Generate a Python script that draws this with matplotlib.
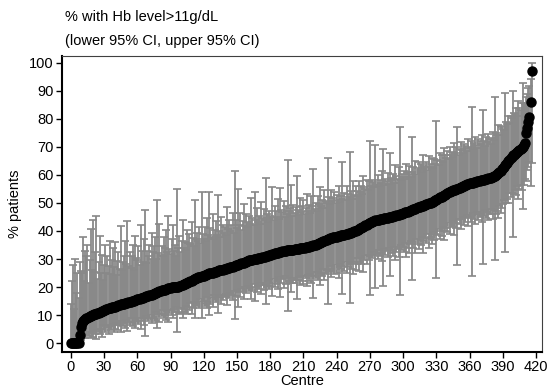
import numpy as np
import matplotlib
matplotlib.use("Agg")
import matplotlib.pyplot as plt

plt.rcParams['font.family'] = ['Liberation Sans', 'DejaVu Sans']

# % of patients with Hb > 11 g/dL per centre, sorted ascending
pct = [
    0.0, 0.0, 0.0, 0.0, 0.0, 0.0, 0.0, 0.0,
    3.0, 5.6, 7.1, 7.7, 8.3, 8.7, 9.0, 9.1, 9.4,
    9.6, 9.8, 10.0, 10.0, 10.2, 10.4, 10.5, 10.7, 10.9, 11.1, 11.1, 11.3, 11.5, 11.8, 11.9, 12.0, 12.2, 12.4,
    12.5, 12.5, 12.7, 12.9, 13.0, 13.0, 13.2, 13.3, 13.5, 13.6, 13.8, 13.9, 14.0, 14.1, 14.3, 14.3, 14.4, 14.5,
    14.6, 14.8, 15.0, 15.0, 15.1, 15.2, 15.4, 15.6, 15.7, 15.8, 16.0, 16.0, 16.1, 16.3, 16.4, 16.7, 16.7, 16.9,
    17.0, 17.1, 17.2, 17.4, 17.6, 17.9, 18.0, 18.2, 18.2, 18.4, 18.5, 18.8, 18.9, 19.0, 19.0, 19.2, 19.4, 19.5,
    19.6, 19.7, 20.0, 20.0, 20.0, 20.0, 20.0, 20.0, 20.0, 20.3, 20.5, 20.6, 20.8, 21.0, 21.1, 21.3, 21.4, 21.7,
    21.8, 22.2, 22.2, 22.5, 22.7, 22.9, 23.1, 23.3, 23.5, 23.5, 23.7, 23.8, 24.0, 24.1, 24.3, 24.4, 24.6, 24.7, 24.9,
    25.0, 25.0, 25.0, 25.2, 25.3, 25.5, 25.6, 25.8, 25.9, 26.0, 26.1, 26.2, 26.3, 26.4, 26.5, 26.7, 26.8, 26.9,
    27.0, 27.1, 27.3, 27.4, 27.6, 27.8, 27.9, 28.0, 28.1, 28.3, 28.4, 28.6, 28.6, 28.9, 29.0, 29.2, 29.3, 29.5,
    29.6, 29.7, 29.8, 30.0, 30.0, 30.0, 30.1, 30.2, 30.3, 30.4, 30.5, 30.6, 30.8, 30.8, 30.9, 31.0, 31.1, 31.3,
    31.4, 31.6, 31.7, 31.8, 32.0, 32.1, 32.1, 32.3, 32.4, 32.5, 32.6, 32.7, 32.8, 32.9, 33.0, 33.1, 33.3, 33.3,
    33.3, 33.3, 33.3, 33.3, 33.4, 33.5, 33.6, 33.6, 33.7, 33.8, 33.9, 34.0, 34.0, 34.1, 34.2, 34.2, 34.3, 34.3,
    34.5, 34.6, 34.8, 35.0, 35.0, 35.1, 35.3, 35.5, 35.7, 35.8, 36.0, 36.1, 36.3, 36.5, 36.7, 36.9, 37.0, 37.3,
    37.5, 37.5, 37.6, 37.7, 37.8, 37.9, 38.0, 38.1, 38.2, 38.3, 38.5, 38.5, 38.6, 38.7, 38.9, 39.0, 39.1, 39.2,
    39.3, 39.4, 39.6, 39.8, 40.0, 40.0, 40.2, 40.5, 40.7, 40.9, 41.1, 41.3, 41.5, 41.7, 42.0, 42.2, 42.5, 42.8,
    43.0, 43.2, 43.3, 43.5, 43.6, 43.8, 43.9, 44.0, 44.1, 44.2, 44.3, 44.4, 44.4, 44.5, 44.6, 44.7, 44.8, 44.9,
    45.0, 45.0, 45.1, 45.2, 45.3, 45.5, 45.6, 45.7, 45.8, 46.0, 46.1, 46.2, 46.4, 46.5, 46.7, 46.8, 46.9, 47.1,
    47.2, 47.4, 47.6, 47.8, 48.0, 48.0, 48.2, 48.4, 48.5, 48.7, 48.9, 49.0, 49.1, 49.3, 49.4, 49.6, 49.8, 49.9,
    50.0, 50.0, 50.2, 50.5, 50.8, 51.0, 51.2, 51.4, 51.7, 52.0, 52.1, 52.3, 52.5, 52.8, 53.0, 53.2, 53.5, 53.8,
    54.0, 54.2, 54.3, 54.5, 54.5, 54.7, 54.9, 55.0, 55.2, 55.4, 55.6, 55.8, 56.0, 56.1, 56.3, 56.5, 56.7, 56.9,
    57.0, 57.1, 57.1, 57.3, 57.4, 57.5, 57.6, 57.8, 57.9, 58.0, 58.1, 58.2, 58.3, 58.3, 58.5, 58.6, 58.7, 58.8, 58.9, 59.0, 59.2,
    59.3, 59.5, 59.8, 60.0, 60.3, 60.7, 61.1, 61.5, 62.1,
    62.5, 63.0, 63.4, 63.9, 64.3, 64.9, 65.4, 66.0, 66.5,
    67.0, 67.3, 67.6, 67.9, 68.2, 68.5, 68.9, 69.3, 69.6, 70.0,
    70.6, 71.4, 75.0, 76.9, 78.9, 80.8, 86.1, 97.2,
]

# distance from the estimate up to the upper 95% CI
err_hi = [
    14, 22, 28, 12, 30, 18, 25, 16, 26, 20, 18, 30, 14, 24, 22, 26, 12, 20, 31, 16,
    34, 15, 22, 35, 12, 18, 27, 14, 20, 11, 16, 23, 13, 19, 15, 24, 12, 17, 21, 14,
    23, 11, 16, 19, 13, 28, 12, 15, 17, 22, 14, 29, 13, 18, 12, 16, 20, 11, 23, 15,
    14, 19, 12, 26, 17, 13, 21, 31, 12, 16, 14, 18, 13, 22, 15, 17, 20, 12, 33, 14,
    24, 13, 16, 12, 19, 15, 21, 13, 26, 14, 12, 17, 22, 13, 15, 11, 35, 14, 18, 12,
    16, 23, 13, 15, 12, 19, 14, 17, 13, 21, 15, 12, 28, 14, 16, 13, 18, 12, 30, 15,
    13, 17, 12, 20, 14, 29, 16, 13, 21, 12, 15, 18, 13, 27, 14, 12, 19, 16, 13, 15,
    12, 22, 14, 17, 13, 15, 19, 12, 34, 16, 13, 27, 14, 18, 12, 15, 21, 13, 17, 14,
    12, 16, 13, 22, 15, 12, 24, 14, 18, 13, 15, 12, 20, 14, 17, 13, 28, 15, 12, 16,
    14, 13, 24, 12, 17, 15, 13, 19, 12, 23, 15, 14, 18, 12, 16, 13, 32, 14, 15, 23,
    12, 16, 13, 15, 26, 14, 12, 18, 13, 15, 17, 12, 14, 19, 13, 15, 12, 18, 14, 27,
    13, 15, 12, 17, 14, 20, 13, 15, 12, 18, 14, 13, 29, 15, 12, 17, 13, 14, 16, 12,
    15, 13, 18, 12, 14, 26, 13, 15, 12, 17, 14, 13, 29, 15, 12, 18, 13, 16, 14, 12,
    17, 13, 15, 12, 18, 14, 13, 16, 12, 15, 29, 13, 15, 14, 12, 27, 13, 16, 12, 14,
    13, 17, 25, 12, 14, 13, 16, 12, 23, 14, 13, 15, 12, 18, 14, 13, 17, 31, 12, 14,
    13, 15, 12, 17, 14, 16, 13, 12, 26, 15, 13, 17, 12, 14, 16, 13, 15, 12, 18, 14,
    13, 15, 12, 17, 14, 13, 16, 12, 15, 13, 28, 14, 12, 16, 13, 15, 12, 17, 14, 13,
    15, 12, 16, 13, 14, 12, 17, 13, 15, 22, 12, 14, 16, 13, 12, 15, 14, 13, 12, 16,
    13, 15, 27, 12, 14, 16, 13, 12, 15, 14, 13, 16, 25, 14, 12, 15, 13, 16, 14, 12,
    14, 16, 13, 28, 15, 14, 17, 13, 16, 15, 14, 13, 26, 15, 14, 16, 13, 15, 14, 23,
    15, 14, 16, 13, 18, 15, 14, 16, 23, 15, 14, 13, 12, 12, 11, 8, 3,
]

# distance from the estimate down to the lower 95% CI
err_lo = [
    0, 0, 0, 0, 0, 0, 0, 0, 2.5, 4.5, 5, 6, 5, 7, 6, 5, 7, 6, 8, 6,
    8, 6, 7, 9, 6, 7, 8, 6, 9, 5, 7, 8, 6, 7, 9, 6, 8, 7, 6, 9,
    8, 6, 7, 9, 7, 10, 6, 8, 7, 9, 6, 10, 7, 8, 6, 8, 9, 6, 10, 7,
    8, 9, 7, 11, 8, 7, 10, 14, 7, 8, 9, 8, 7, 10, 8, 9, 10, 7, 13, 8,
    11, 8, 9, 7, 10, 9, 11, 8, 12, 9, 8, 10, 11, 8, 9, 7, 16, 9, 10, 8,
    10, 12, 9, 10, 8, 11, 9, 10, 8, 12, 10, 8, 14, 9, 10, 9, 11, 8, 15, 10,
    9, 11, 8, 12, 10, 15, 11, 9, 12, 8, 10, 11, 9, 15, 10, 9, 12, 11, 9, 10,
    9, 13, 10, 11, 9, 10, 12, 9, 19, 11, 9, 15, 10, 12, 9, 10, 13, 9, 11, 10,
    9, 11, 10, 14, 11, 9, 15, 10, 12, 10, 11, 9, 13, 10, 12, 10, 17, 11, 9, 12,
    11, 10, 15, 9, 12, 11, 10, 13, 9, 16, 11, 10, 13, 9, 12, 10, 22, 11, 12, 15,
    10, 12, 11, 12, 18, 11, 10, 13, 10, 12, 13, 10, 11, 14, 10, 12, 10, 13, 11, 19,
    11, 12, 10, 13, 11, 15, 11, 12, 10, 14, 12, 11, 23, 12, 10, 14, 11, 12, 13, 10,
    13, 11, 15, 10, 12, 21, 11, 13, 10, 14, 12, 11, 25, 13, 11, 15, 11, 14, 12, 10,
    15, 12, 13, 11, 16, 12, 11, 14, 11, 13, 26, 12, 13, 12, 11, 24, 12, 14, 11, 13,
    12, 15, 24, 11, 13, 12, 14, 11, 21, 13, 12, 14, 11, 16, 13, 12, 15, 29, 11, 13,
    12, 14, 11, 16, 13, 15, 12, 11, 25, 14, 12, 16, 11, 13, 15, 12, 14, 11, 17, 13,
    12, 14, 11, 16, 13, 12, 15, 11, 14, 12, 28, 13, 11, 15, 12, 14, 11, 16, 13, 12,
    14, 11, 15, 12, 13, 11, 16, 12, 14, 27, 11, 13, 15, 12, 11, 14, 13, 12, 11, 15,
    12, 14, 33, 11, 13, 15, 12, 11, 14, 13, 12, 15, 30, 13, 11, 14, 12, 15, 13, 11,
    13, 15, 12, 30, 14, 13, 16, 12, 15, 14, 13, 12, 31, 14, 13, 15, 12, 14, 13, 29,
    14, 13, 15, 12, 17, 14, 13, 15, 22, 14, 13, 17, 15, 16, 16, 30, 33,
]

n = min(len(pct), len(err_hi), len(err_lo))
y = np.array(pct[:n])
lo = np.clip(y - np.array(err_lo[:n]), 0, 100)
hi = np.clip(y + np.array(err_hi[:n]), 0, 100)
x = np.arange(n)

fig = plt.figure(figsize=(5.5, 3.88), dpi=100)
ax = fig.add_axes([0.1127, 0.0928, 0.873, 0.763])

ax.errorbar(x, y, yerr=[y - lo, hi - y], fmt='none', ecolor='#888888',
            elinewidth=1.3, capsize=3.2, capthick=1.2, zorder=1)
ax.plot(x, y, 'o', color='black', markersize=6.5, zorder=2)

ax.set_xlim(-8, 425.5)
ax.set_ylim(-3.2, 102.5)
ax.set_xticks(np.arange(0, 421, 30))
ax.set_yticks(np.arange(0, 101, 10))
ax.tick_params(labelsize=10.5, length=4, width=1, pad=2)
ax.tick_params(axis='x', pad=1.5)

for side in ['left', 'bottom']:
    ax.spines[side].set_linewidth(1.5)
    ax.spines[side].set_color('black')
for side in ['top', 'right']:
    ax.spines[side].set_linewidth(0.8)
    ax.spines[side].set_color('#404040')

ax.set_xlabel('Centre', fontsize=10.5, labelpad=0.5)
ax.set_ylabel('% patients', fontsize=10.5, labelpad=5)

fig.text(0.118, 0.955, '% with Hb level>11g/dL', fontsize=10.5, va='center', ha='left')
fig.text(0.118, 0.895, '(lower 95% CI, upper 95% CI)', fontsize=10.5, va='center', ha='left')

fig.savefig('out.png', dpi=100)
